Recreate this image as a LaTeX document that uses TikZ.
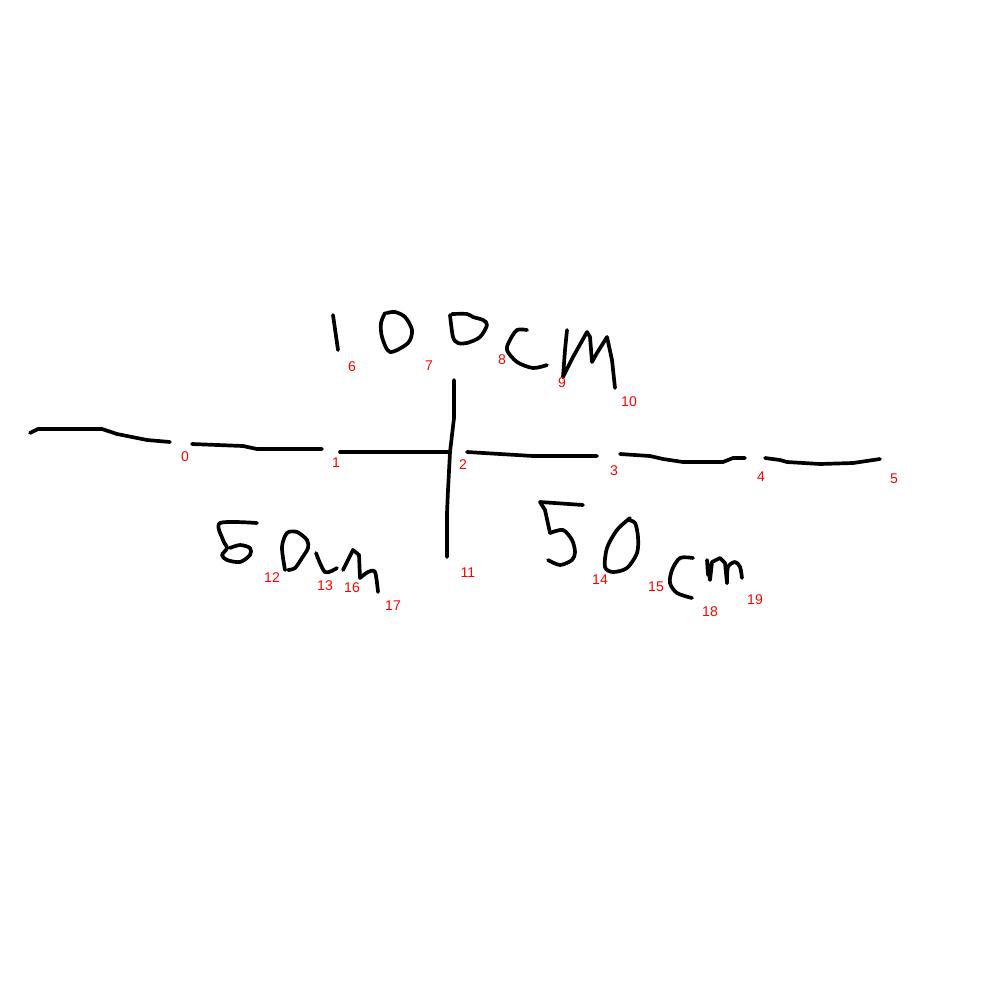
\documentclass[tikz,border=0pt]{standalone}
\usepackage{fontspec}
\setmainfont{Liberation Sans}
\begin{document}
\begin{tikzpicture}[x=0.01cm,y=-0.01cm,
  ink/.style={draw=black,line width=1.05pt,line cap=round,line join=round},
  glyph/.style={ink,smooth,tension=0.5},
  idx/.style={text=red,font=\fontsize{4}{5}\selectfont,inner sep=0pt}]
\path[use as bounding box,fill=white] (0,0) rectangle (1000,1000);
% horizontal line pieces
\draw[ink] plot coordinates {(30,433) (38,429) (102,429) (117,434) (147,440) (170,442)};
\draw[ink] plot coordinates {(192,444) (243,446) (257,449) (322,449)};
\draw[ink] plot coordinates {(340,452) (450,452)};
\draw[ink] plot coordinates {(467,452) (533,456) (597,456)};
\draw[ink] plot coordinates {(620,454) (650,456) (663,459) (683,462) (723,462) (733,458) (745,458)};
\draw[ink] plot coordinates {(765,458) (780,460) (787,462) (820,464) (853,463) (880,459)};
% vertical line
\draw[ink] plot coordinates {(454,380) (454,418) (450,452) (448,490) (447,513) (447,557)};
% 100cm
\draw[ink] plot coordinates {(333,315) (338,350)};
\draw[glyph] plot coordinates {(385,313) (381,323) (382,337) (390,352) (408,343) (412,330) (405,317) (395,312) (387,313)};
\draw[glyph] plot coordinates {(450,315) (453,337) (458,343) (467,343) (480,337) (487,325) (483,320) (473,317) (467,314) (452,314)};
\draw[glyph] plot coordinates {(527,330) (517,330) (510,340) (507,350) (517,362) (533,368) (547,365)};
\draw[ink] plot coordinates {(567,330) (565,350) (563,377) (573,357) (587,332) (590,337) (592,362) (597,353) (607,337) (612,360) (615,388)};
% 50cm left
\draw[glyph] plot coordinates {(257,523) (220,523) (223,540) (227,548) (222,555) (227,560) (240,562) (250,555) (250,548) (240,545) (230,548)};
\draw[glyph] plot coordinates {(285,570) (282,547) (287,533) (297,532) (307,540) (308,548) (302,558) (295,568) (288,570)};
\draw[glyph] plot coordinates {(316,553) (325,572) (337,568)};
\draw[ink] plot coordinates {(343,570) (353,550) (359,555) (360,578)};
\draw[glyph] plot coordinates {(360,578) (368,572) (375,572) (378,592)};
% 50cm right
\draw[ink] plot coordinates {(583,505) (540,502) (545,510) (550,533)};
\draw[glyph] plot coordinates {(550,533) (563,530) (572,540) (575,552) (572,560) (560,565) (548,560)};
\draw[glyph] plot coordinates {(630,518) (617,530) (607,548) (605,567) (613,572) (627,568) (637,553) (638,537) (635,523) (628,520)};
\draw[glyph] plot coordinates {(693,558) (680,558) (672,570) (670,583) (677,593) (692,598)};
\draw[ink] plot coordinates {(708,575) (707,560) (710,580) (712,562) (720,558) (725,563) (727,583)};
\draw[glyph] plot coordinates {(727,583) (728,567) (735,562) (740,567) (742,578)};
% index labels
\node[idx] (l0) at (185,457) {0};
\node[idx] (l1) at (336,463) {1};
\node[idx] (l2) at (463,465) {2};
\node[idx] (l3) at (614,471) {3};
\node[idx] (l4) at (761,477) {4};
\node[idx] (l5) at (894,479) {5};
\node[idx] (l6) at (352,367) {6};
\node[idx] (l7) at (429,366) {7};
\node[idx] (l8) at (502,360) {8};
\node[idx] (l9) at (562,383) {9};
\node[idx] (l10) at (629,402) {10};
\node[idx] (l11) at (468,573) {11};
\node[idx] (l12) at (272,578) {12};
\node[idx] (l13) at (325,586) {13};
\node[idx] (l16) at (352,588) {16};
\node[idx] (l17) at (393,606) {17};
\node[idx] (l14) at (600,580) {14};
\node[idx] (l15) at (656,587) {15};
\node[idx] (l18) at (710,612) {18};
\node[idx] (l19) at (755,600) {19};
\end{tikzpicture}
\end{document}
